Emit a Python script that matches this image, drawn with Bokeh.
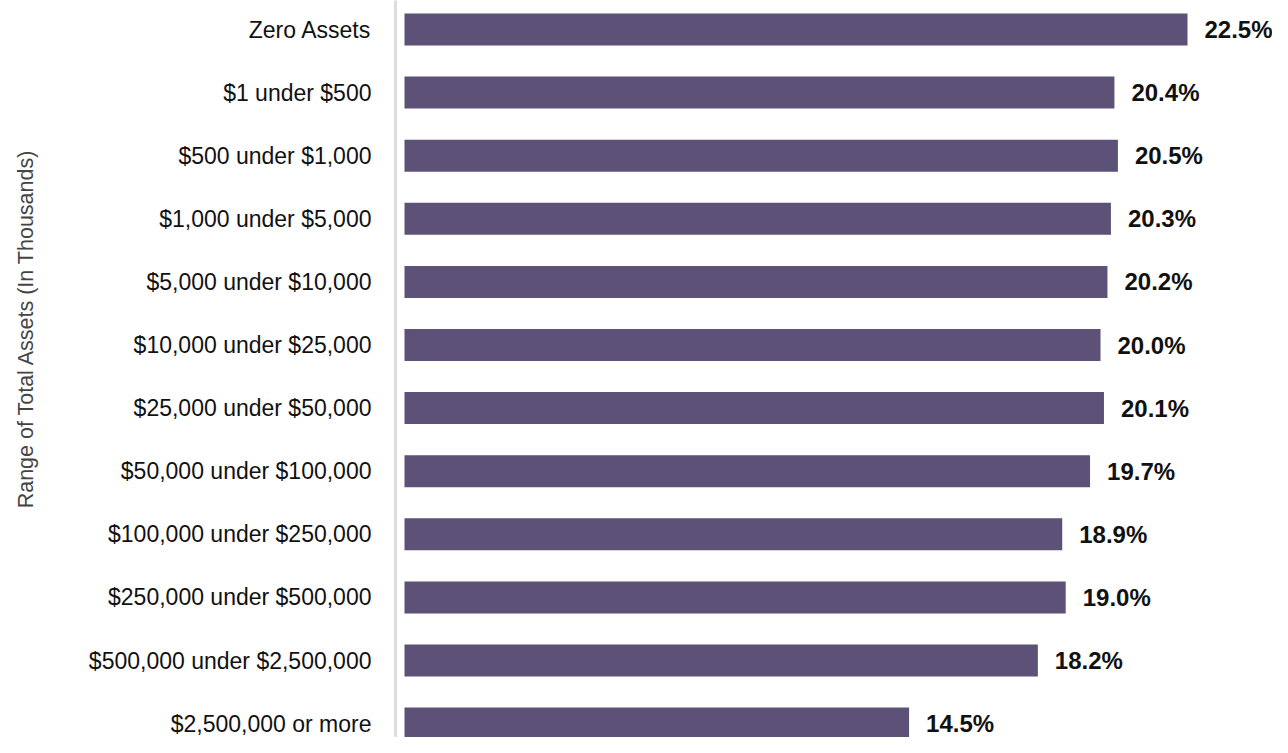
from bokeh.plotting import figure
from bokeh.layouts import row
from bokeh.models import Range1d, FixedTicker, ColumnDataSource
from bokeh.core.properties import value
from bokeh.embed import file_html
from bokeh.resources import INLINE
import math

categories = [
    "Zero Assets",
    "$1 under $500",
    "$500 under $1,000",
    "$1,000 under $5,000",
    "$5,000 under $10,000",
    "$10,000 under $25,000",
    "$25,000 under $50,000",
    "$50,000 under $100,000",
    "$100,000 under $250,000",
    "$250,000 under $500,000",
    "$500,000 under $2,500,000",
    "$2,500,000 or more",
]
values = [22.5, 20.4, 20.5, 20.3, 20.2, 20.0, 20.1, 19.7, 18.9, 19.0, 18.2, 14.5]
value_labels = ["%.1f%%" % v for v in values]
axis_title = "Range of Total Assets (In Thousands)"

n = len(categories)
ypos = [n - 1 - i for i in range(n)]

W, H = 1272, 737
TW = 40                      # width of the strip holding the vertical axis title
frame_left = 395             # frame left edge, in page pixels
px_per_unit_x = 34.8
x_start = -9 / px_per_unit_x
x_end = x_start + (W - frame_left) / px_per_unit_x
pitch = 63.1
y_end = (n - 1) + 29 / pitch
y_start = y_end - H / pitch

# ---- vertical axis-title strip ----
tf = figure(width=TW, height=H, output_backend="svg", toolbar_location=None,
            x_range=Range1d(0, TW), y_range=Range1d(H, 0),
            x_axis_location=None, y_axis_location=None,
            min_border_left=0, min_border_right=0, min_border_top=0, min_border_bottom=0)
tf.outline_line_color = None
tf.xgrid.visible = False
tf.ygrid.visible = False
tf.text(x=[25], y=[328], text=[axis_title], angle=math.pi / 2,
        text_align="center", text_baseline="middle",
        text_font=value("Liberation Sans"), text_font_size="21.5px",
        text_color="#444444")

# ---- main bar chart ----
src = ColumnDataSource(dict(y=ypos, v=values, lab=value_labels, cat=categories))

p = figure(width=W - TW, height=H, output_backend="svg", toolbar_location=None,
           x_range=Range1d(x_start, x_end), y_range=Range1d(y_start, y_end),
           x_axis_location=None, min_border_left=frame_left - TW, min_border_right=0,
           min_border_top=0, min_border_bottom=0)
p.outline_line_color = None
p.xgrid.visible = False
p.ygrid.visible = False
p.background_fill_color = "white"
p.border_fill_color = "white"

p.hbar(y="y", right="v", left=0, height=0.507, source=src,
       fill_color="#5d5177", line_color=None)

p.text(x="v", y="y", text="lab", source=src, x_offset=17,
       text_align="left", text_baseline="middle",
       text_font=value("Liberation Sans"), text_font_style="bold",
       text_font_size="24px", text_color="#111111")

yax = p.yaxis[0]
yax.ticker = FixedTicker(ticks=ypos)
yax.major_label_overrides = {yy: c for yy, c in zip(ypos, categories)}
yax.major_tick_line_color = None
yax.major_tick_out = 0
yax.major_tick_in = 0
yax.minor_tick_line_color = None
yax.axis_line_color = "#dddddd"
yax.axis_line_width = 3
yax.major_label_standoff = 24
yax.major_label_text_font = "Liberation Sans"
yax.major_label_text_font_size = "23px"
yax.major_label_text_color = "#111111"

layout = row(tf, p, spacing=0)
open("out.html", "w").write(file_html(layout, INLINE))
